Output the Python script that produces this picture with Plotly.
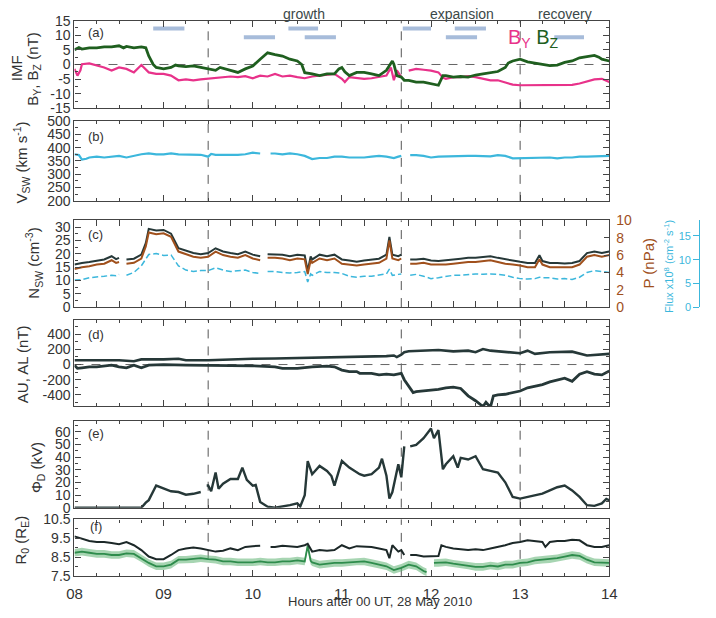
import plotly.graph_objects as go

# ---------------- data (time in minutes after 08:00 UT) ----------------
BZ_T = [0,3,5,10,15,20,25,30,33,35,40,45,48,50,53,55,60,65,68,70,75,80,85,90,95,98,100,105,110,115,
        120,125,130,135,140,145,150,153,155,160,165,170,175,178,180,182,185,190,195,200,205,210,213,214,215,217,220,222,225,230,
        235,240,245,248,250,255,260,265,270,275,280,285,290,292,295,300,305,310,315,320,325,330,335,340,345,350,353,355,360]
BZ = [5.0,5.8,5.3,5.7,5.7,6.0,6.0,6.4,5.7,6.2,5.7,6.0,5.7,2.9,0.0,-1.0,-1.5,-1.0,-0.2,-0.5,
      -0.7,-0.5,-1.0,-1.5,-2.0,-1.0,-1.3,-2.0,-2.7,-1.5,-0.5,1.8,4.0,3.4,2.9,1.8,1.2,0.0,-2.8,-3.2,
      -3.8,-3.2,-3.2,-1.5,-1.0,-2.5,-3.8,-2.7,-2.7,-3.2,-3.8,-2.0,0.8,1.2,0.1,-3.8,-4.3,-5.4,-5.4,-6.0,
      -6.0,-6.5,-7.1,-3.8,-3.8,-4.3,-4.1,-4.3,-3.6,-3.2,-2.7,-2.4,-1.0,0.5,1.2,1.8,0.9,0.4,0.1,-0.4,
      -0.2,0.7,1.2,2.3,2.7,3.1,2.5,1.8,1.2]

BY_T = [0,2,4,5,10,15,20,25,30,35,40,45,50,55,60,65,70,75,80,85,90,95,100,105,110,115,120,125,130,135,
        140,145,150,155,160,165,170,175,180,182,185,190,195,200,205,210,213,215,217,220,223,225,230,235,240,245,
        248,250,255,260,265,270,275,280,285,290,295,300,305,310,315,320,325,330,335,340,345,350,355,358,360]
BY = [-1.5,-3.8,-2.0,0.1,0.4,-0.4,-1.0,-2.1,-1.0,-1.5,-2.7,-0.2,-2.7,-3.2,-3.2,-3.8,-5.4,-5.1,-5.4,-5.1,
      -4.9,-4.7,-4.3,-4.1,-4.3,-4.0,-4.7,-3.8,-4.1,-3.2,-4.1,-3.8,-4.3,-4.7,-4.1,-3.8,-3.4,-3.2,-4.9,-6.0,
      -4.3,-4.7,-4.9,-4.7,-4.3,-3.8,-1.0,-5.4,-2.0,-4.3,None,-2.1,-1.5,-1.8,-2.1,-2.7,
      -4.5,-4.9,-4.3,-4.3,-4.0,-4.3,-4.9,-5.4,-5.4,-6.2,-6.9,-7.1,-7.1,-7.1,-7.1,-7.1,-7.1,-7.0,-7.0,-6.5,
      -5.8,-5.1,-4.9,-5.5,-6.0]

# minute, minute, level of the horizontal interval bars in panel (a)
BAR_START = [53, 114, 144, 155, 221, 256, 250, 323]
BAR_END = [74, 135, 164, 176, 240, 277, 271, 343]
BAR_LEVEL = [12.3, 9.3, 12.3, 9.3, 12.3, 12.3, 9.3, 9.3]

VSW_T = [0,3,5,8,10,15,20,25,30,35,40,45,50,55,60,65,70,75,80,85,90,92,95,100,105,110,115,120,125,128,
         132,135,140,145,150,155,160,165,170,175,180,185,190,195,200,205,210,215,218,220,223,226,230,235,240,245,250,255,260,265,
         270,275,280,285,290,295,300,305,310,315,320,325,330,335,340,345,350,355,360]
VSW = [375,372,355,358,363,366,363,366,369,363,369,375,378,375,375,378,375,375,373,373,
       366,376,373,373,372,373,375,381,378,None,378,378,375,378,375,369,357,361,361,366,
       366,363,363,363,366,369,366,361,366,369,None,372,372,369,363,366,367,369,368,369,
       369,369,367,372,369,360,361,361,362,363,363,360,363,363,366,366,367,367,369]

C_T = [0,5,10,15,20,25,28,30,33,35,40,45,48,50,55,60,65,70,75,80,85,90,95,100,105,110,115,120,125,127,
       130,135,140,145,150,155,157,159,160,165,170,175,180,185,190,195,200,205,210,212,214,218,220,223,226,230,235,240,245,250,
       255,260,265,270,275,280,285,290,295,300,305,310,313,315,320,325,330,335,340,345,350,355,360]
NSW = [16.0,16.6,16.9,17.3,17.9,19.1,18.0,18.5,None,17.9,18.2,19.7,24.0,29.4,28.8,29.0,27.6,22.1,21.1,20.3,
       19.9,20.3,22.1,20.9,20.3,19.9,20.9,19.7,19.1,None,19.9,19.9,19.7,19.1,19.7,19.4,13.6,19.0,17.9,19.7,
       19.1,19.7,17.9,17.5,17.0,17.5,17.9,18.2,19.7,26.4,19.7,19.1,19.7,None,17.9,17.9,18.2,17.5,17.3,17.5,
       17.9,18.2,18.5,18.5,18.7,19.1,18.5,17.9,17.5,17.0,16.6,16.6,19.5,17.3,16.6,16.6,16.4,16.6,17.3,20.3,
       20.9,20.3,20.9]
PDYN = [4.4,4.6,4.7,4.9,5.0,5.4,5.1,5.2,None,5.0,5.1,5.6,7.0,8.6,8.4,8.5,8.1,6.4,6.1,5.8,
        5.7,5.8,6.4,6.0,5.8,5.7,6.0,5.6,5.4,None,5.7,5.7,5.6,5.4,5.6,5.5,3.8,5.4,5.1,5.6,
        5.4,5.6,5.0,4.9,4.8,4.9,5.0,5.1,5.6,7.7,5.6,5.4,5.6,None,5.0,5.0,5.1,4.9,4.9,4.9,
        5.0,5.1,5.2,5.2,5.3,5.4,5.2,5.0,4.9,4.8,4.6,4.6,5.5,4.9,4.6,4.6,4.6,4.6,4.9,5.8,
        6.0,5.8,6.0]
FLUX = [5.7,5.8,6.2,6.3,6.5,6.7,6.6,6.9,None,6.7,7.3,8.7,10.0,11.1,11.3,10.9,11.0,8.7,7.8,7.5,
        7.7,7.7,8.3,7.8,7.5,7.7,7.8,7.3,7.1,None,7.5,7.5,7.3,7.2,7.3,7.5,5.3,7.0,6.7,7.5,
        7.3,7.3,7.1,6.5,6.3,6.5,6.5,6.7,7.0,8.0,6.7,6.9,7.0,None,6.7,6.9,6.5,6.0,6.2,6.5,
        6.7,6.7,6.9,7.0,6.9,7.0,6.9,6.7,6.3,6.0,5.9,6.0,6.3,6.2,6.2,5.9,6.0,5.8,6.3,7.3,
        7.7,7.5,7.3]

AU_T = [0,10,20,30,40,45,55,60,70,75,90,105,120,135,150,165,180,190,200,210,
        215,217,220,222,225,240,245,255,265,270,275,280,290,300,305,310,320,330,335,345,355,360]
AU = [56,52,56,56,43,68,64,68,77,56,56,68,77,80,86,90,98,98,107,111,
      120,98,130,163,175,184,193,175,184,163,205,184,163,150,184,141,163,163,171,120,128,141]
AL_T = [0,2,5,10,15,20,25,30,35,40,45,50,60,75,90,105,120,135,140,150,
        160,170,175,180,185,190,192,195,200,205,210,215,220,222,225,228,230,235,240,245,
        250,255,260,265,270,275,277,280,282,285,290,295,300,305,310,315,320,325,330,335,340,345,350,355,360]
AL = [-9,-51,-43,-30,-30,-21,-9,-30,-43,-9,-43,-9,0,-9,-9,-9,-17,-30,-51,-51,
      -30,-21,-30,-73,-94,-94,-116,-116,-116,-137,-128,-137,-116,-201,-287,-372,-360,-351,-342,-330,
      -308,-300,-317,-415,-480,-556,-500,-565,-415,-402,-394,-372,-351,-308,-287,-265,-231,-201,-180,-223,
      -128,-94,-128,-137,-86]

PHI_T = [0,45,48,50,55,60,65,70,75,80,85,87,89,90,92,95,97,100,105,110,
         113,116,120,122,125,130,135,140,145,150,152,155,157,160,165,170,173,175,180,185,
         190,192,195,200,205,207,210,212,214,218,220,222,223,226,230,235,240,242,245,248,
         250,255,258,260,265,270,275,280,285,290,295,300,305,310,315,320,325,330,335,340,345,350,355,358,360]
PHI = [0,0,4,6,17.5,15.5,13,12.4,10.3,11,12.4,None,17.5,17.5,13,27.8,15,19,22.7,22.7,
       31.7,22,17.5,18,4.6,0.8,0,0.8,2,3.4,1,9.8,36.9,26.5,33,29,25,17.5,36.9,31.7,
       27.8,26.5,25.3,26.5,31.7,38.7,25.3,7.2,12.4,34.3,24,48.5,None,48.5,49.7,55,62.6,55,61.3,30.4,
       34.3,40.7,31.7,39.4,38.1,40.7,30.4,29.1,27.8,20.1,8.5,7.2,8.5,9.8,11.1,13.7,16.2,17.5,13.7,8.5,
       2,1.5,3.4,7,5.9]

R0B_T = list(range(0, 126, 5)) + [128,132,135,140,145,150,155,157,160,165,
        170,175,180,185,190,195,200,205,210,212,214,218,220,222,223,226,230,235,240,245,
        247,250,255,260,265,270,275,280,285,290,295,300,305,310,315,317,320,325,330,335,340,345,350,355,360]
R0B = [9.6,9.47,9.35,9.3,9.3,9.25,9.18,9.3,9.13,8.87,8.53,8.39,8.39,8.61,8.87,8.96,9.01,8.96,8.87,8.79,
       8.84,8.96,8.87,9.04,9.08,9.1,
       None,9.04,9.04,9.1,9.08,9.04,9.13,9.2,8.79,8.87,
       8.84,8.87,9.13,8.96,9.08,9.06,9.04,8.96,8.87,8.44,
       9.13,8.79,8.87,8.61,None,8.61,8.61,8.53,8.53,8.56,
       9.13,9.04,8.96,8.91,8.87,8.91,8.87,8.96,9.04,9.13,
       9.25,9.3,9.39,9.35,9.3,9.04,9.3,9.35,9.35,9.42,
       9.39,9.13,9.04,9.04,9.13]
R0G_T = list(range(0, 156, 5)) + [157,159] + list(range(160, 236, 5)) + [237,238,242] + list(range(245, 361, 5))
R0G = [8.73,8.79,8.73,8.67,8.67,8.61,8.61,8.7,8.67,8.44,8.19,8.01,8.01,8.1,8.36,8.36,8.39,8.44,8.39,8.36,
       8.27,8.27,8.22,8.22,8.22,8.27,8.22,8.22,8.27,8.27,8.32,8.27,
       9.1,8.3,
       8.22,8.1,8.15,8.19,8.19,8.22,8.27,8.27,8.19,8.1,8.01,7.81,7.93,8.1,8.01,7.76,
       7.7,None,8.19,
       8.19,8.22,8.15,8.1,8.05,7.98,7.98,8.05,8.0,8.1,8.1,8.19,8.22,8.32,8.36,8.39,8.44,8.53,8.61,8.56,
       8.36,8.22,8.19,8.19]
R0G_ERR = 0.2

PHASE_LABELS = ["growth", "expansion", "recovery"]
PHASE_LINES_MIN = [90, 220, 300]
X_TICKS = ["08", "09", "10", "11", "12", "13", "14"]

for a, b in [(BZ_T, BZ), (BY_T, BY), (VSW_T, VSW), (C_T, NSW), (C_T, PDYN), (C_T, FLUX),
             (AU_T, AU), (AL_T, AL), (PHI_T, PHI), (R0B_T, R0B), (R0G_T, R0G)]:
    assert len(a) == len(b), (len(a), len(b))

# ---------------- layout helpers ----------------
W, H = 716, 618
XL, XR = 68, 615
PAN = [(13, 103), (116, 198), (218, 307), (320, 409), (424, 513), (525, 583)]
FONT = "Liberation Sans, Arial, Helvetica, sans-serif"
AX = "#444444"
TXT = "#333333"

C_BY = "#e8328a"
C_BZ = "#1f5f1f"
C_CYAN = "#3cb7dc"
C_DARK = "#263838"
C_BROWN = "#a0501c"
C_R0G = "#2e8c4c"


def hrs(ms):
    return [8 + m / 60 for m in ms]


fig = go.Figure()

def line(tm, v, ax, color, width=2.2, dash=None, yax=None):
    fig.add_trace(go.Scatter(x=hrs(tm), y=v, mode="lines", xaxis=f"x{ax}",
                             yaxis=yax or f"y{ax}", connectgaps=False,
                             line=dict(color=color, width=width, dash=dash),
                             showlegend=False, hoverinfo="skip"))

# panel a bars
bx, byv = [], []
for s, e, lv in zip(BAR_START, BAR_END, BAR_LEVEL):
    bx += [8 + s / 60, 8 + e / 60, None]
    byv += [lv, lv, None]
fig.add_trace(go.Scatter(x=bx, y=byv, mode="lines", xaxis="x", yaxis="y",
                         line=dict(color="#a7bcda", width=4), showlegend=False))
line(BY_T, BY, 1, C_BY, 2.2)
line(BZ_T, BZ, 1, C_BZ, 2.8)
line(VSW_T, VSW, 2, C_CYAN, 2.2)
line(C_T, FLUX, 3, C_CYAN, 1.5, dash="6px,3px", yax="y8")
line(C_T, PDYN, 3, C_BROWN, 2.0, yax="y7")
line(C_T, NSW, 3, C_DARK, 2.0)
line(AU_T, AU, 4, C_DARK, 2.6)
line(AL_T, AL, 4, C_DARK, 2.8)
line(PHI_T, PHI, 5, C_DARK, 2.4)

# R0 error band (split at gaps)
seg = []
segs = []
for t, v in zip(R0G_T, R0G):
    if v is None:
        if seg:
            segs.append(seg)
        seg = []
    else:
        seg.append((8 + t / 60, v))
if seg:
    segs.append(seg)
for sg in segs:
    xs = [p[0] for p in sg] + [p[0] for p in sg[::-1]]
    ys = [p[1] + R0G_ERR for p in sg] + [p[1] - R0G_ERR for p in sg[::-1]]
    fig.add_trace(go.Scatter(x=xs, y=ys, mode="lines", fill="toself", xaxis="x6", yaxis="y6",
                             fillcolor="rgba(95,178,115,0.55)", line=dict(width=0),
                             showlegend=False, hoverinfo="skip"))
line(R0G_T, R0G, 6, C_R0G, 1.8)
line(R0B_T, R0B, 6, "#1c2828", 2.0)

YCFG = {
    1: dict(range=[-15, 15], tickvals=[-15, -10, -5, 0, 5, 10, 15], minor=2.5),
    2: dict(range=[200, 500], tickvals=[200, 250, 300, 350, 400, 450, 500], minor=25),
    3: dict(range=[0, 32.6], tickvals=[0, 5, 10, 15, 20, 25, 30], minor=2.5),
    4: dict(range=[-555, 594], tickvals=[-400, -200, 0, 200, 400], minor=100),
    5: dict(range=[0, 68.5], tickvals=[0, 10, 20, 30, 40, 50, 60], minor=5),
    6: dict(range=[7.5, 10.5], tickvals=[7.5, 8.5, 9.5, 10.5], minor=0.5),
}

lay = dict(width=W, height=H, margin=dict(l=0, r=0, t=0, b=0),
           paper_bgcolor="white", plot_bgcolor="white", showlegend=False,
           font=dict(family=FONT, size=13, color=TXT))

for i, (top, bot) in enumerate(PAN, start=1):
    k = "" if i == 1 else str(i)
    xa = dict(domain=[XL / W, XR / W], range=[8, 14], anchor=f"y{k}" if k else "y",
              tickvals=list(range(8, 15)), ticktext=X_TICKS, showticklabels=(i == 6),
              ticks="inside", ticklen=6, tickcolor=AX, tickwidth=1,
              minor=dict(dtick=0.25, tick0=8, ticklen=3, ticks="inside", tickcolor=AX),
              mirror="allticks", showline=True, linecolor=AX, linewidth=1.2,
              showgrid=False, zeroline=False, ticklabelstandoff=4,
              tickfont=dict(family=FONT, size=15, color=TXT))
    c = YCFG[i]
    ya = dict(domain=[1 - bot / H, 1 - top / H], range=c["range"], anchor=f"x{k}" if k else "x",
              tickvals=c["tickvals"], ticktext=[("%g" % v) for v in c["tickvals"]],
              ticks="inside", ticklen=6, tickcolor=AX,
              minor=dict(dtick=c["minor"], tick0=c["tickvals"][0], ticklen=3, ticks="inside", tickcolor=AX),
              mirror=("allticks" if i != 3 else True), showline=True, linecolor=AX, linewidth=1.2,
              showgrid=False, zeroline=False,
              tickfont=dict(family=FONT, size=14, color=TXT))
    lay[f"xaxis{k}"] = xa
    lay[f"yaxis{k}"] = ya

lay["yaxis7"] = dict(overlaying="y3", anchor="x3", side="right", range=[0, 10],
                     tickvals=[0, 2, 4, 6, 8, 10], ticks="inside", ticklen=5, tickcolor=AX,
                     showgrid=False, zeroline=False, showline=False, ticklabelstandoff=6,
                     tickfont=dict(family=FONT, size=14, color=C_BROWN))
lay["yaxis8"] = dict(overlaying="y3", anchor="free", position=707 / W, side="left",
                     range=[0, 18.3], tickvals=[0, 5, 10, 15], ticks="outside",
                     ticklen=6, tickcolor=C_CYAN,
                     showline=True, linecolor=C_CYAN, linewidth=1,
                     showgrid=False, zeroline=False,
                     tickfont=dict(family=FONT, size=11, color=C_CYAN))

shapes = []
for i in range(1, 7):
    k = "" if i == 1 else str(i)
    for m in PHASE_LINES_MIN:
        shapes.append(dict(type="line", xref=f"x{k}", yref=f"y{k} domain",
                           x0=8 + m / 60, x1=8 + m / 60, y0=0, y1=1, layer="below",
                           line=dict(color="#555555", width=1, dash="9px,8px")))
for k in ["", "4"]:
    shapes.append(dict(type="line", xref=f"x{k} domain", yref=f"y{k}", x0=0, x1=1, y0=0, y1=0,
                       layer="below", line=dict(color="#666666", width=1, dash="9px,8px")))
lay["shapes"] = shapes

def ann(text, x, y, size=14, color=TXT, angle=0, xanchor="center"):
    return dict(text=text, x=x / W, y=1 - y / H, xref="paper", yref="paper",
                showarrow=False, textangle=angle, xanchor=xanchor, yanchor="middle",
                font=dict(family=FONT, size=size, color=color))

anns = [
    ann("IMF", 9, 62, 15, angle=-90),
    ann("B<sub>Y</sub>, B<sub>Z</sub> (nT)", 26, 63, 15, angle=-90),
    ann("V<sub>SW</sub> (km s<sup>-1</sup>)", 14, 159, 15, angle=-90),
    ann("N<sub>SW</sub> (cm<sup>-3</sup>)", 26, 262, 15, angle=-90),
    ann("AU, AL (nT)", 15, 366, 15, angle=-90),
    ann("Φ<sub>D</sub> (kV)", 30, 472, 15, angle=-90),
    ann("R<sub>0</sub> (R<sub>E</sub>)", 14, 546, 15, angle=-90),
    ann("P (nPa)", 655, 262, 15, C_BROWN, angle=-90),
    ann("Flux x10<sup>8</sup> (cm<sup>-2</sup> s<sup>-1</sup>)", 676, 265, 11, C_CYAN, angle=-90),
    ann("(a)", 90, 25, 13), ann("(b)", 90, 132, 13), ann("(c)", 90, 233, 13),
    ann("(d)", 90, 335, 13), ann("(e)", 90, 437, 13), ann("(f)", 90, 532, 13),
    ann(PHASE_LABELS[0], 303, 6, 14, "#3b4848"),
    ann(PHASE_LABELS[1], 464, 6, 14, "#3b4848"),
    ann(PHASE_LABELS[2], 570, 6, 14, "#3b4848"),
    ann("<span style='color:%s'>B<sub>Y</sub></span> <span style='color:%s'>B<sub>Z</sub></span>" % (C_BY, C_BZ),
        537, 31, 20),
    ann("Hours after 00 UT, 28 May 2010", 381, 609, 13),
]
lay["annotations"] = anns
fig.update_layout(**lay)
fig.write_html("out.html")
